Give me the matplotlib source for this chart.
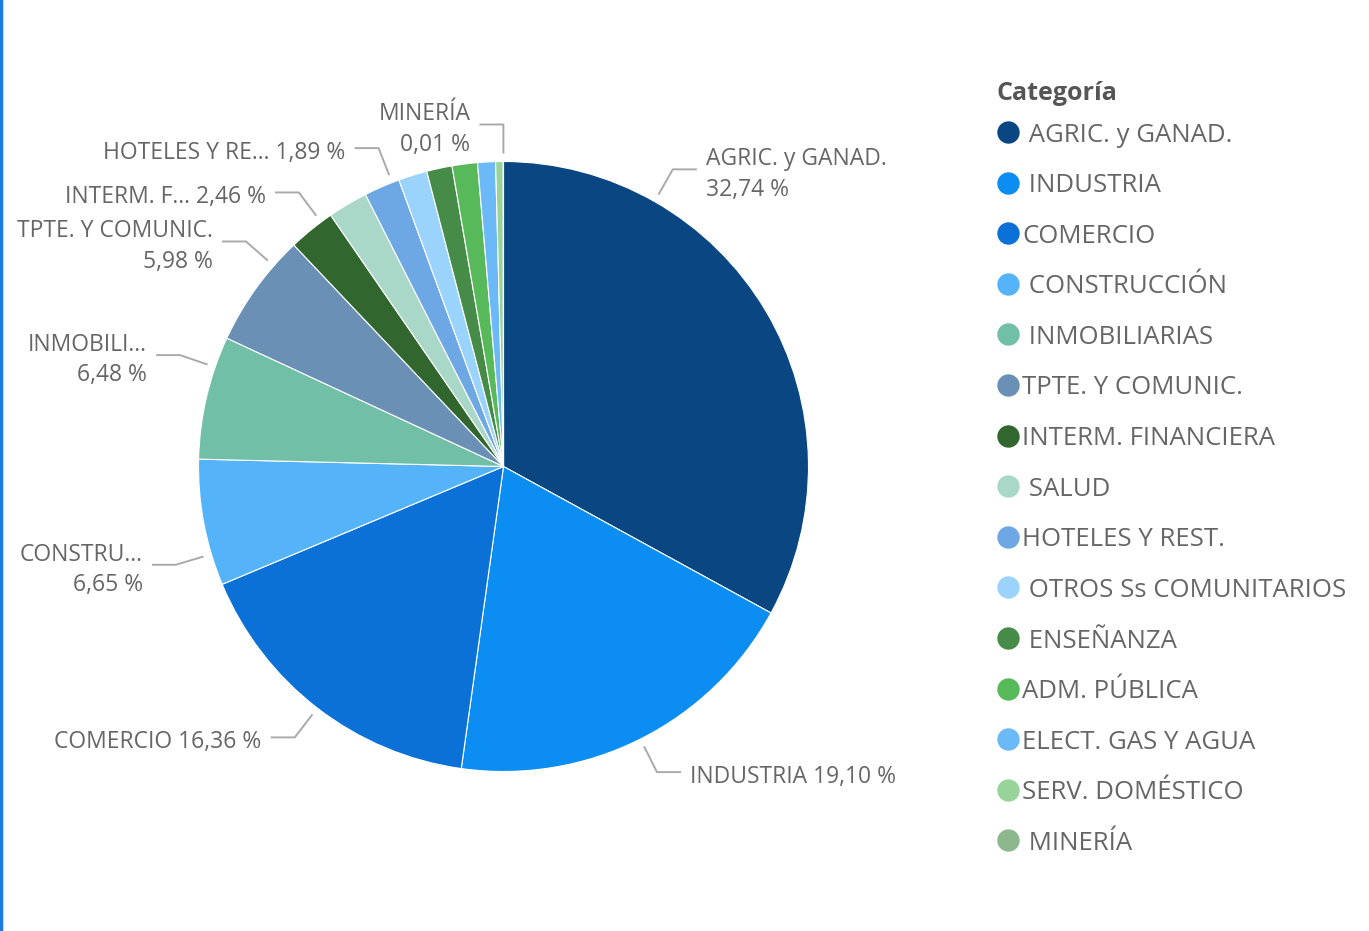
import numpy as np
import matplotlib.pyplot as plt

plt.rcParams['font.family'] = ['Open Sans', 'DejaVu Sans']

# Datos
categorias = [" AGRIC. y GANAD.", " INDUSTRIA", "COMERCIO", " CONSTRUCCIÓN", " INMOBILIARIAS",
              "TPTE. Y COMUNIC.", "INTERM. FINANCIERA", " SALUD", "HOTELES Y REST.",
              " OTROS Ss COMUNITARIOS", " ENSEÑANZA", "ADM. PÚBLICA", "ELECT. GAS Y AGUA",
              "SERV. DOMÉSTICO", " MINERÍA"]
valores = [32.74, 19.10, 16.36, 6.65, 6.48, 5.98, 2.46, 2.10, 1.89, 1.51, 1.34, 1.33, 0.94, 0.40, 0.01]
colores = ["#0A4782", "#0B8DF2", "#0B71D6", "#55B3F9", "#71BFA6", "#6B90B6", "#32662F", "#A9D8C9",
           "#6DA7E4", "#9AD3FC", "#468C48", "#57B95A", "#6CB9F8", "#98D49A", "#8DB88E"]

# etiquetas visibles sobre la torta: indice -> (nombre corto, dos lineas)
etiquetas = {0: ("AGRIC. y GANAD.", True), 1: ("INDUSTRIA", False), 2: ("COMERCIO", False),
             3: ("CONSTRU...", True), 4: ("INMOBILI...", True), 5: ("TPTE. Y COMUNIC.", True),
             6: ("INTERM. F...", False), 8: ("HOTELES Y RE...", False), 14: ("MINERÍA", True)}
# donde sale la linea guia dentro de la porcion (0 = inicio, 1 = fin)
frac_guia = {0: 0.25, 3: 0.25, 4: 0.75, 5: 0.75, 6: 0.75, 8: 0.8}

W, H = 1369, 931
fig = plt.figure(figsize=(W / 100, H / 100), dpi=100)
ax = fig.add_axes([0, 0, 1, 1])

cx, cy, r = 503.5, H - 466.5, 305
wedges, _ = ax.pie(valores, colors=colores, startangle=90, counterclock=False,
                   center=(cx, cy), radius=r, frame=True,
                   wedgeprops=dict(edgecolor='white', linewidth=0.8))
ax.set_xlim(0, W)
ax.set_ylim(0, H)
ax.set_aspect('equal')
ax.axis('off')

gris = '#666666'
fs = 16.5
for i, (nombre, dos) in etiquetas.items():
    w = wedges[i]
    f = frac_guia.get(i, 0.5)
    a = np.radians(w.theta2 - f * (w.theta2 - w.theta1))
    u = np.array([np.cos(a), np.sin(a)])
    p0 = np.array([cx, cy]) + (r + 8) * u
    p1 = np.array([cx, cy]) + (r + 37) * u
    lado = 1 if u[0] > 0.05 else -1
    p2 = p1 + np.array([lado * 24, 0])
    ax.plot([p0[0], p1[0], p2[0]], [p0[1], p1[1], p2[1]], color='#AAAAAA', lw=1.4,
            solid_capstyle='butt')
    pct = f"{valores[i]:.2f}".replace('.', ',') + " %"
    txt = f"{nombre}\n{pct}" if dos else f"{nombre} {pct}"
    ax.text(p2[0] + lado * 9, p1[1] - 5, txt, ha='left' if lado > 0 else 'right',
            va='center', fontsize=fs, color=gris, linespacing=1.36,
            multialignment='left' if lado > 0 else 'right')

# leyenda
ax.text(996, H - 93, "Categoría", fontsize=18, fontweight='bold', color='#555555',
        ha='left', va='center')
for k, (cat, col) in enumerate(zip(categorias, colores)):
    y = H - (132 + 50.6 * k)
    ax.scatter([1008], [y], s=260, color=col, linewidths=0, zorder=3)
    ax.text(1022, y - 3, cat, fontsize=18.5, color=gris, ha='left', va='center')

# borde izquierdo
ax.plot([1.2, 1.2], [0, H], color='#1A7BE3', lw=2.5)

fig.savefig('out.png', dpi=100)
